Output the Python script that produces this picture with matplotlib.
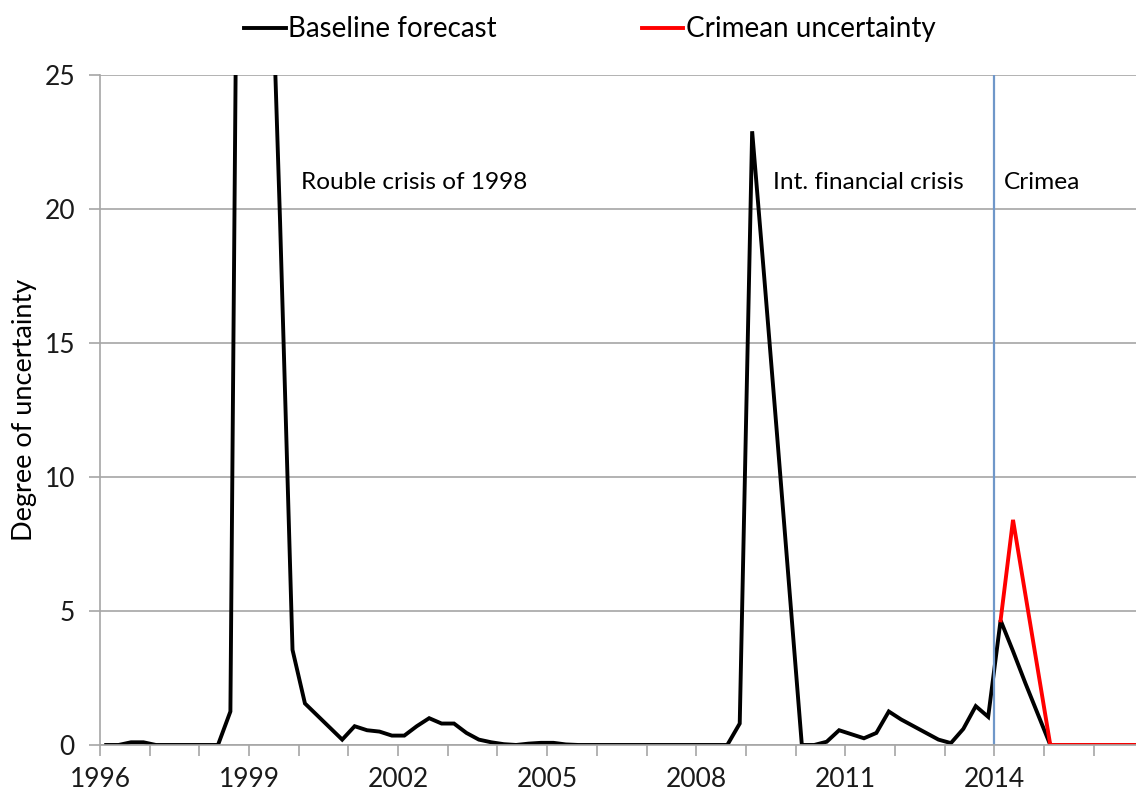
import numpy as np
import matplotlib.pyplot as plt

plt.rcParams['font.family'] = ['Lato', 'DejaVu Sans']

# quarterly values, 1996Q1 .. 2016Q4
baseline = [0, 0, 0.1, 0.1, 0, 0, 0, 0, 0, 0,
            1.25, 58, 62, 34, 19.5, 3.55, 1.55, 1.1, 0.65, 0.2,
            0.7, 0.55, 0.5, 0.35, 0.35, 0.7, 1.0, 0.8, 0.8, 0.45,
            0.2, 0.1, 0.03, 0.0, 0.05, 0.08, 0.08, 0.02, 0, 0,
            0, 0, 0, 0, 0, 0, 0, 0, 0, 0,
            0, 0.8, 22.9, 17.3, 11.6, 5.8, 0, 0, 0.12, 0.55,
            0.4, 0.25, 0.45, 1.25, 0.95, 0.7, 0.45, 0.2, 0.07, 0.6,
            1.45, 1.05, 4.65, 3.5, 2.3, 1.15, 0, 0, 0, 0,
            0, 0, 0, 0]
crimea = [np.nan] * 72 + [4.65, 8.4, 5.6, 2.8, 0, 0, 0, 0, 0, 0, 0, 0]

years = list(range(1996, 2017))
year_labels = [str(y) if (y - 1996) % 3 == 0 else '' for y in years]

notes = ['Rouble crisis of 1998', 'Int. financial crisis', 'Crimea']
note_x = [2000.05, 2009.55, 2014.2]
note_y = [21.0, 21.0, 21.0]

x = 1996 + (np.arange(len(baseline)) + 0.5) / 4

fig = plt.figure(figsize=(11.36, 7.96), dpi=100)
ax = fig.add_axes([0.088, 0.0641, 0.912, 0.8417])

ax.plot(x, baseline, color='black', lw=2.8, label='Baseline forecast', solid_joinstyle='miter')
ax.plot(x, crimea, color='red', lw=2.8, label='Crimean uncertainty', solid_joinstyle='miter')
ax.axvline(2014, color='#6F97C9', lw=1.6)

ax.set_xlim(1996, 2016.85)
ax.set_ylim(0, 25)
ax.set_yticks([0, 5, 10, 15, 20, 25])
ax.set_xticks(years)
ax.set_xticklabels(year_labels)
ax.grid(axis='y', color='#A6A6A6', lw=1.2)
ax.set_axisbelow(True)
for s in ['top', 'right']:
    ax.spines[s].set_visible(False)
for s in ['left', 'bottom']:
    ax.spines[s].set_color('#A6A6A6')
    ax.spines[s].set_linewidth(1.2)
ax.tick_params(axis='both', direction='out', length=8, width=1.2, color='#A6A6A6',
               labelsize=19, labelcolor='#1a1a1a')
ax.tick_params(axis='x', pad=8)
ax.tick_params(axis='y', pad=10)
ax.set_ylabel('Degree of uncertainty', fontsize=19.5, labelpad=5)

for t, xx, yy in zip(notes, note_x, note_y):
    ax.text(xx, yy, t, fontsize=17.6, va='center', ha='left')

fig.legend(*ax.get_legend_handles_labels(), loc='center left',
           bbox_to_anchor=(0.205, 0.963), ncol=2, frameon=False,
           fontsize=20, handlelength=1.5, handletextpad=0.1, columnspacing=5.2,
           borderaxespad=0)

fig.savefig('out.png', dpi=100)
